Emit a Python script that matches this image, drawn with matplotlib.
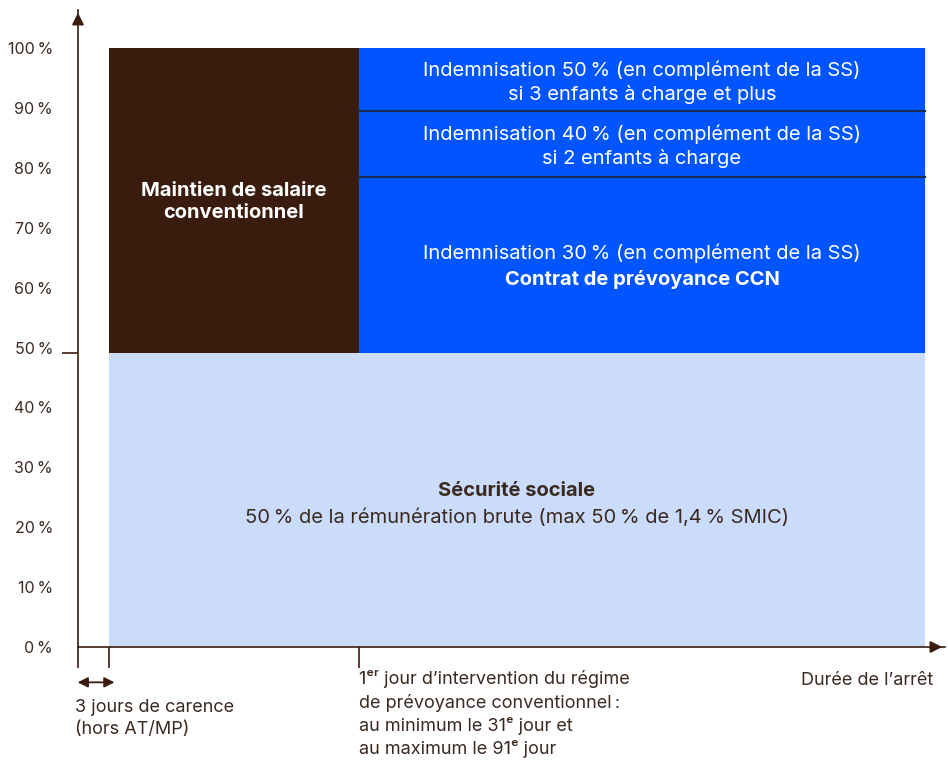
import matplotlib.pyplot as plt
from matplotlib.patches import Rectangle

plt.rcParams['font.family'] = ['Inter', 'DejaVu Sans']

# valeurs (x en jours approx., y en %)
x_carence = 3
x_prevoyance = 27.2
x_fin = 82
ss_haut = 49
niveaux_prev = [49, 78.5, 89.5, 100]  # 30 %, 40 %, 50 %
maintien = [49, 100]
y_ticks = [0, 10, 20, 30, 40, 50, 60, 70, 80, 90, 100]
y_labels = [f"{v}\u2009%" for v in y_ticks]

txt_prev = ["Indemnisation 30\u2009% (en complément de la SS)",
            "Indemnisation 40\u2009% (en complément de la SS)\nsi 2 enfants à charge",
            "Indemnisation 50\u2009% (en complément de la SS)\nsi 3 enfants à charge et plus"]

brun = '#3a1c0e'
bleu = '#0055ff'
bleu_clair = '#cbdcfb'
texte = '#3a2a22'
fs = 14.5

fig = plt.figure(figsize=(9.48, 7.6), dpi=100)
ax = fig.add_axes([78/948, 113/760, 867/948, 637/760])
ax.set_xlim(0, 867/10.33)
ax.set_ylim(0, 637/5.99)

# sécurité sociale
ax.add_patch(Rectangle((x_carence, 0), x_fin - x_carence, ss_haut, color=bleu_clair, lw=0))
# maintien de salaire
ax.add_patch(Rectangle((x_carence, maintien[0]), x_prevoyance - x_carence, maintien[1] - maintien[0],
                       color=brun, lw=0))
# prévoyance
for i in range(3):
    ax.add_patch(Rectangle((x_prevoyance, niveaux_prev[i]), x_fin - x_prevoyance,
                           niveaux_prev[i+1] - niveaux_prev[i], facecolor=bleu, edgecolor='none'))
for y in niveaux_prev[1:3]:
    ax.plot([x_prevoyance, x_fin], [y, y], color='#1c2a5c', lw=1.6)

xm = (x_prevoyance + x_fin) / 2
ax.text(xm, 94.3, txt_prev[2], ha='center', va='center',
        color='white', fontsize=fs, linespacing=1.3)
ax.text(xm, 83.6, txt_prev[1], ha='center', va='center',
        color='white', fontsize=fs, linespacing=1.3)
ax.text(xm, 65.8, txt_prev[0], ha='center', va='center', color='white', fontsize=fs)
ax.text(xm, 61.4, "Contrat de prévoyance CCN", ha='center', va='center', color='white',
        fontsize=fs, fontweight='bold')
ax.text((x_carence + x_prevoyance) / 2, 74.3, "Maintien de salaire\nconventionnel", ha='center',
        va='center', color='white', fontsize=fs, fontweight='bold', linespacing=1.25)
xs = (x_carence + x_fin) / 2
ax.text(xs, 26.0, "Sécurité sociale", ha='center', va='center', color=texte, fontsize=fs,
        fontweight='bold')
ax.text(xs, 21.5, "50\u2009% de la rémunération brute (max 50\u2009% de 1,4\u2009% SMIC)",
        ha='center', va='center', color=texte, fontsize=fs)

# axes
for s in ['top', 'right']:
    ax.spines[s].set_visible(False)
for s in ['left', 'bottom']:
    ax.spines[s].set_color(brun)
    ax.spines[s].set_linewidth(1.2)
ax.annotate('', xy=(0, 1), xytext=(0, 0.98), xycoords='axes fraction',
            arrowprops=dict(arrowstyle='-|>', color=brun, lw=1.2, mutation_scale=18))
ax.annotate('', xy=(1, 0), xytext=(0.98, 0), xycoords='axes fraction',
            arrowprops=dict(arrowstyle='-|>', color=brun, lw=1.2, mutation_scale=18))

ax.set_yticks(y_ticks)
ax.set_yticklabels(y_labels)
ax.tick_params(axis='y', length=0, pad=18, labelsize=11.5, labelcolor=texte)
ax.set_yticks([ss_haut], minor=True)
ax.tick_params(axis='y', which='minor', length=11.5, width=1.2, color=brun)
ax.set_xticks([0, x_carence, x_prevoyance])
ax.set_xticklabels([])
ax.tick_params(axis='x', length=15, width=1.2, color=brun)

# annotations sous l'axe
ax.annotate('', xy=(-0.3, -5.9), xytext=(x_carence + 0.8, -5.9), xycoords='data',
            arrowprops=dict(arrowstyle='<|-|>', color=brun, lw=1.3, mutation_scale=15),
            annotation_clip=False)
ax.text(-0.3, -8.7, "3 jours de carence\n(hors AT/MP)", ha='left', va='top', color=texte,
        fontsize=13, linespacing=1.4, clip_on=False)
ax.text(x_prevoyance, -3.9,
        "1\u1d49\u02b3 jour d\u2019intervention du régime\nde prévoyance conventionnel\u2009:\n"
        "au minimum le 31\u1d49 jour et\nau maximum le 91\u1d49 jour",
        ha='left', va='top', color=texte, fontsize=13, linespacing=1.38, clip_on=False)
ax.text(82.8, -4.1, "Durée de l\u2019arrêt", ha='right', va='top', color=texte, fontsize=13,
        clip_on=False)

fig.savefig('out.png', dpi=100)
